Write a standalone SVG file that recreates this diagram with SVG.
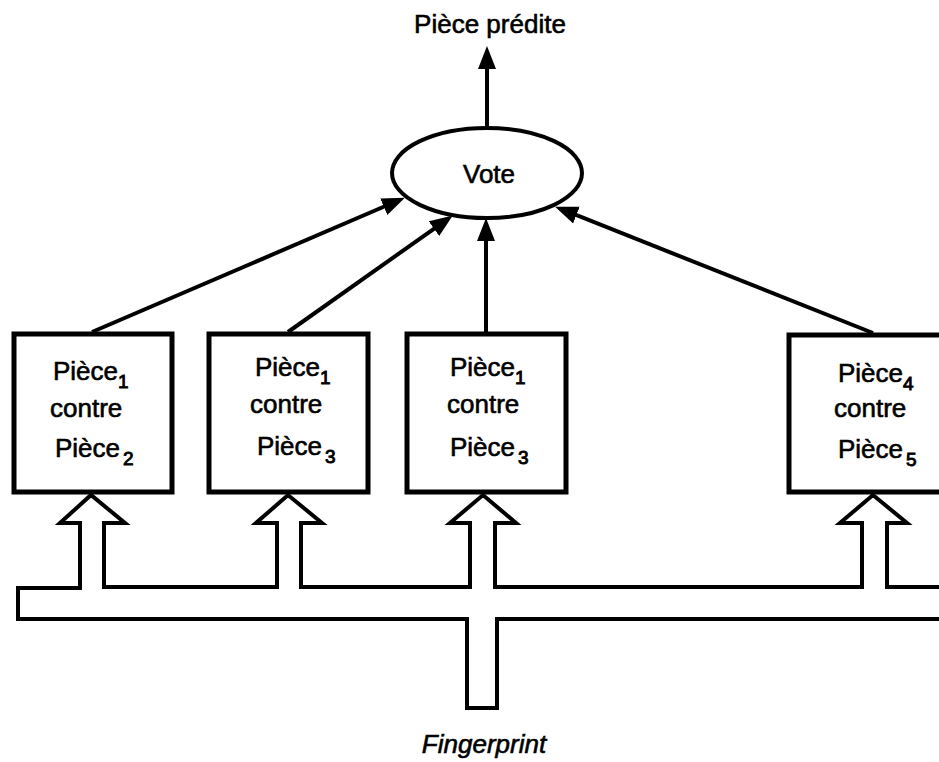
<svg xmlns="http://www.w3.org/2000/svg" width="939" height="762" viewBox="0 0 939 762">
<style>
.t{font-family:"Liberation Sans",Arial,sans-serif;font-size:26px;fill:#000;stroke:#000;stroke-width:0.6px}
.s{font-size:19px;stroke-width:0.9px}
.box{fill:#fff;stroke:#000;stroke-width:5}
.ln{fill:none;stroke:#000;stroke-width:4}
.bus{fill:none;stroke:#000;stroke-width:4;stroke-linejoin:miter}
</style>
<defs>
<marker id="ah" markerUnits="userSpaceOnUse" markerWidth="26" markerHeight="20" refX="12" refY="9" orient="auto">
<path d="M0,0 L23,9 L0,18 z" fill="#000"/>
</marker>
</defs>
<rect width="939" height="762" fill="#fff"/>
<g id="connectors">
<line class="ln" x1="487" y1="128" x2="487" y2="57" marker-end="url(#ah)"/>
<line class="ln" x1="92" y1="332" x2="394.8" y2="202" marker-end="url(#ah)"/>
<line class="ln" x1="288" y1="332" x2="443.8" y2="221.8" marker-end="url(#ah)"/>
<line class="ln" x1="486" y1="332" x2="486" y2="229" marker-end="url(#ah)"/>
<line class="ln" x1="873" y1="333" x2="565.3" y2="210.7" marker-end="url(#ah)"/>
<path class="bus" d="M18,588 L80,588 L80,523 L60,523 L91,495 L125,523 L104,523 L104,587 L277,587 L277,523 L256,523 L288,495 L322,523 L301,523 L301,587 L470,587 L470,523 L450,523 L483,495 L516,523 L495,523 L495,587 L862,587 L862,523 L840,523 L873,495 L907,523 L887,523 L887,587 L945,587"/>
<path class="bus" d="M18,586 L18,619 L467,619 L467,708 L497,708 L497,619 L945,619"/>
</g>
<g id="output-label">
<text class="t" x="490" y="33" text-anchor="middle">Pièce prédite</text>
</g>
<g id="vote">
<ellipse cx="487" cy="173" rx="95" ry="45" fill="#fff" stroke="#000" stroke-width="4"/>
<text class="t" x="489" y="183" text-anchor="middle">Vote</text>
</g>
<g id="box1">
<rect class="box" x="14" y="334" width="158" height="158"/>
<text class="t" x="53" y="380">Pièce<tspan class="s" dy="8">1</tspan></text>
<text class="t" x="50" y="417">contre</text>
<text class="t" x="55" y="457">Pièce<tspan class="s" dx="3" dy="8">2</tspan></text>
</g>
<g id="box2">
<rect class="box" x="209" y="334" width="159" height="158"/>
<text class="t" x="255" y="376">Pièce<tspan class="s" dy="8">1</tspan></text>
<text class="t" x="250" y="413">contre</text>
<text class="t" x="257" y="455">Pièce<tspan class="s" dx="3" dy="8">3</tspan></text>
</g>
<g id="box3">
<rect class="box" x="407" y="334" width="159" height="158"/>
<text class="t" x="450" y="376">Pièce<tspan class="s" dy="8">1</tspan></text>
<text class="t" x="447" y="413">contre</text>
<text class="t" x="450" y="456">Pièce<tspan class="s" dx="3" dy="8">3</tspan></text>
</g>
<g id="box4">
<rect class="box" x="789" y="335" width="170" height="157"/>
<text class="t" x="838" y="382">Pièce<tspan class="s" dy="8">4</tspan></text>
<text class="t" x="834" y="417">contre</text>
<text class="t" x="838" y="458">Pièce<tspan class="s" dx="3" dy="8">5</tspan></text>
</g>
<g id="input-label">
<text class="t" x="484" y="753" text-anchor="middle" font-style="italic" font-size="24">Fingerprint</text>
</g>
</svg>
